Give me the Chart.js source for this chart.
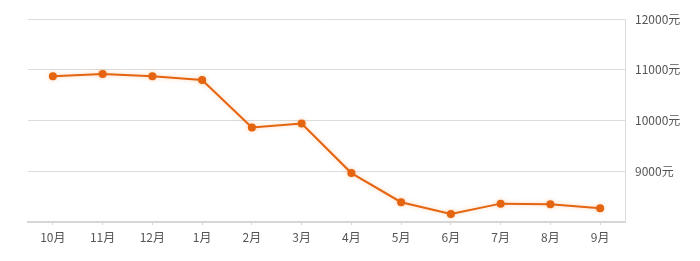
<!DOCTYPE html>
<html>
<head>
<meta charset="utf-8">
<script src="https://cdn.jsdelivr.net/npm/chart.js@4/dist/chart.umd.min.js"></script>
<style>
  html, body { margin: 0; padding: 0; background: #fff; }
  #wrap { width: 700px; height: 261px; position: relative; }
</style>
</head>
<body>
<div id="wrap"><canvas id="price-chart"></canvas></div>
<script>
// 月份和均价
const months = ['10月', '11月', '12月', '1月', '2月', '3月', '4月', '5月', '6月', '7月', '8月', '9月'];
const prices = [10871, 10917, 10870, 10798, 9861, 9940, 8964, 8390, 8158, 8362, 8350, 8271];
const yTicks = [8000, 9000, 10000, 11000, 12000];

const labelFont = { family: "'Noto Sans CJK SC', 'Noto Sans', sans-serif", size: 12 };

// 折线的淡橙色光晕
const glow = {
    id: 'glow',
    beforeDatasetsDraw(chart) {
        const ctx = chart.ctx;
        ctx.save();
        ctx.shadowColor = 'rgba(240, 130, 40, 0.35)';
        ctx.shadowBlur = 4;
    },
    afterDatasetsDraw(chart) {
        chart.ctx.restore();
    }
};

new Chart(document.getElementById('price-chart'), {
    type: 'line',
    data: {
        labels: months,
        datasets: [{
            data: prices,
            borderColor: '#e5640f',
            backgroundColor: '#e5640f',
            borderWidth: 2,
            pointRadius: 4,
            pointHoverRadius: 4,
            pointBorderWidth: 0,
            tension: 0
        }]
    },
    options: {
        responsive: true,
        maintainAspectRatio: false,
        animation: false,
        layout: { padding: { left: 28, top: 19, right: 0, bottom: 0 } },
        plugins: { legend: { display: false }, tooltip: { enabled: false } },
        scales: {
            x: {
                offset: true,
                grid: { display: true, drawOnChartArea: false, drawTicks: true, tickLength: 3, color: '#d6d6d6' },
                border: { display: true, color: '#d6d6d6', width: 2 },
                ticks: { color: '#555', font: labelFont, padding: 5, maxRotation: 0 },
                afterFit: s => { s.height = 39; }
            },
            y: {
                position: 'right',
                min: 8000,
                max: 12000,
                afterBuildTicks: s => { s.ticks = yTicks.map(v => ({ value: v })); },
                grid: { color: '#dcdcdc', drawTicks: false },
                border: { display: true, color: '#dcdcdc' },
                ticks: {
                    color: '#555',
                    font: labelFont,
                    padding: 10,
                    callback: v => v === 8000 ? '' : v + '元'
                },
                afterFit: s => { s.width = 75; }
            }
        }
    },
    plugins: [glow]
});
</script>
</body>
</html>
